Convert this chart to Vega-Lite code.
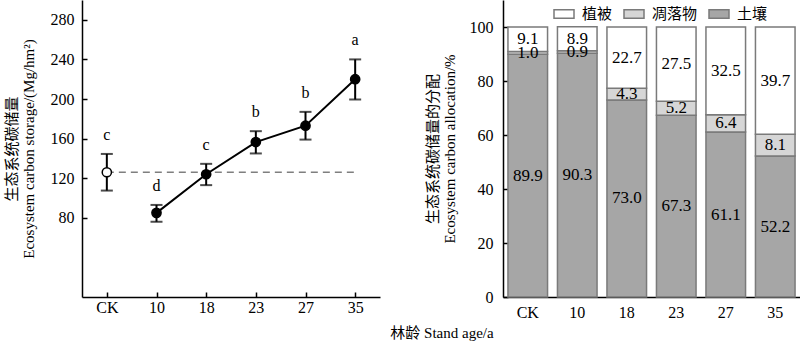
{
  "$schema": "https://vega.github.io/schema/vega-lite/v6.json",
  "padding": {"left": 4, "top": 0, "right": 0, "bottom": 0},
  "config": {
    "font": "Liberation Serif, Noto Sans CJK SC",
    "view": {"stroke": null},
    "axis": {"grid": false, "domainColor": "#000", "domainWidth": 1.5, "tickColor": "#000", "tickWidth": 1.5, "labelFont": "Liberation Serif", "labelFontSize": 16, "labelColor": "#000", "titleFont": "Liberation Serif, Noto Sans CJK SC", "titleFontSize": 15, "titleFontWeight": "normal", "titleColor": "#000"}
  },
  "title": {"text": "林龄 Stand age/a", "orient": "bottom", "anchor": "middle", "fontSize": 15, "fontWeight": "normal", "font": "Liberation Serif, Noto Sans CJK SC", "dx": 40, "offset": 6},
  "resolve": {"scale": {"fill": "independent"}, "legend": {"fill": "independent"}},
  "datasets": {
    "storage": [
      {"age": "CK", "value": 126, "lo": 107.5, "hi": 144.5, "letter": "c", "group": "CK"},
      {"age": "10", "value": 85, "lo": 76, "hi": 93, "letter": "d", "group": "stand"},
      {"age": "18", "value": 124, "lo": 113, "hi": 134.5, "letter": "c", "group": "stand"},
      {"age": "23", "value": 156.5, "lo": 145, "hi": 167.5, "letter": "b", "group": "stand"},
      {"age": "27", "value": 173, "lo": 159, "hi": 187, "letter": "b", "group": "stand"},
      {"age": "35", "value": 220, "lo": 199.5, "hi": 240, "letter": "a", "group": "stand"}
    ],
    "baseline": [{"from": "CK", "to": "35", "value": 126}],
    "allocation": [
      {"age": "CK", "part": "土壤", "value": 89.9},
      {"age": "CK", "part": "凋落物", "value": 1.0},
      {"age": "CK", "part": "植被", "value": 9.1},
      {"age": "10", "part": "土壤", "value": 90.3},
      {"age": "10", "part": "凋落物", "value": 0.9},
      {"age": "10", "part": "植被", "value": 8.9},
      {"age": "18", "part": "土壤", "value": 73.0},
      {"age": "18", "part": "凋落物", "value": 4.3},
      {"age": "18", "part": "植被", "value": 22.7},
      {"age": "23", "part": "土壤", "value": 67.3},
      {"age": "23", "part": "凋落物", "value": 5.2},
      {"age": "23", "part": "植被", "value": 27.5},
      {"age": "27", "part": "土壤", "value": 61.1},
      {"age": "27", "part": "凋落物", "value": 6.4},
      {"age": "27", "part": "植被", "value": 32.5},
      {"age": "35", "part": "土壤", "value": 52.2},
      {"age": "35", "part": "凋落物", "value": 8.1},
      {"age": "35", "part": "植被", "value": 39.7}
    ]
  },
  "spacing": 45,
  "hconcat": [
    {
      "width": 298,
      "height": 297,
      "encoding": {
        "x": {"field": "age", "type": "ordinal", "scale": {"type": "point", "padding": 0.5, "domain": ["CK", "10", "18", "23", "27", "35"]}, "axis": {"title": null, "labelAngle": 0, "tickSize": -5, "labelPadding": 7}}
      },
      "layer": [
        {
          "data": {"name": "baseline"},
          "mark": {"type": "rule", "color": "#7f7f7f", "strokeWidth": 1.5, "strokeDash": [7, 5]},
          "encoding": {
            "x": {"field": "from", "type": "ordinal"},
            "x2": {"field": "to"},
            "y": {"field": "value", "type": "quantitative"}
          }
        },
        {
          "data": {"name": "storage"},
          "mark": {"type": "rule", "color": "#000", "strokeWidth": 2},
          "encoding": {
            "y": {"field": "lo", "type": "quantitative"},
            "y2": {"field": "hi"}
          }
        },
        {
          "data": {"name": "storage"},
          "mark": {"type": "tick", "orient": "horizontal", "color": "#000", "size": 12, "thickness": 2},
          "encoding": {"y": {"field": "lo", "type": "quantitative"}}
        },
        {
          "data": {"name": "storage"},
          "mark": {"type": "tick", "orient": "horizontal", "color": "#000", "size": 12, "thickness": 2},
          "encoding": {"y": {"field": "hi", "type": "quantitative"}}
        },
        {
          "data": {"name": "storage"},
          "transform": [{"filter": "datum.group === 'stand'"}],
          "mark": {"type": "line", "color": "#000", "strokeWidth": 2},
          "encoding": {"y": {"field": "value", "type": "quantitative"}}
        },
        {
          "data": {"name": "storage"},
          "mark": {"type": "point", "shape": "circle", "size": 85, "stroke": "#000", "strokeWidth": 1.5, "opacity": 1},
          "encoding": {
            "y": {"field": "value", "type": "quantitative", "scale": {"domain": [60, 300], "nice": false}, "axis": {"title": ["生态系统碳储量", "Ecosystem carbon storage/(Mg/hm²)"], "values": [80, 120, 160, 200, 240, 280], "tickSize": -5, "labelPadding": 13, "titlePadding": 14}},
            "fill": {"field": "group", "type": "nominal", "scale": {"domain": ["CK", "stand"], "range": ["#ffffff", "#000000"]}, "legend": null}
          }
        },
        {
          "data": {"name": "storage"},
          "mark": {"type": "text", "fontSize": 16, "dy": -11, "baseline": "bottom", "color": "#000"},
          "encoding": {
            "y": {"field": "hi", "type": "quantitative"},
            "text": {"field": "letter"}
          }
        }
      ]
    },
    {
      "width": 297,
      "height": 297,
      "data": {"name": "allocation"},
      "transform": [
        {"calculate": "indexof(['土壤', '凋落物', '植被'], datum.part)", "as": "k"},
        {"stack": "value", "groupby": ["age"], "sort": [{"field": "k", "order": "ascending"}], "as": ["v0", "v1"]},
        {"calculate": "(datum.v0 + datum.v1) / 2", "as": "vm"}
      ],
      "encoding": {
        "x": {"field": "age", "type": "ordinal", "scale": {"type": "band", "paddingInner": 0.2, "paddingOuter": 0.1, "domain": ["CK", "10", "18", "23", "27", "35"]}, "axis": {"title": null, "labelAngle": 0, "ticks": false, "labelPadding": 7}}
      },
      "layer": [
        {
          "mark": {"type": "bar", "stroke": "#7a7a7a", "strokeWidth": 1.5},
          "encoding": {
            "y": {"field": "v0", "type": "quantitative", "scale": {"domain": [0, 110], "nice": false}, "axis": {"title": ["生态系统碳储量的分配", "Ecosystem carbon allocation/%"], "values": [0, 20, 40, 60, 80, 100], "tickSize": -5, "labelPadding": 15, "titlePadding": 12}},
            "y2": {"field": "v1"},
            "fill": {"field": "part", "type": "nominal", "scale": {"domain": ["植被", "凋落物", "土壤"], "range": ["#ffffff", "#d6d6d6", "#a6a6a6"]},
              "legend": {"title": null, "orient": "none", "legendX": 50, "legendY": 3, "direction": "horizontal", "symbolType": "M-1,-0.42H1V0.42H-1Z", "symbolSize": 400, "symbolStrokeColor": "#7a7a7a", "symbolStrokeWidth": 1.5, "labelFontSize": 15, "labelFont": "Noto Sans CJK SC", "labelColor": "#000", "columnPadding": 8, "labelOffset": 7}}
          }
        },
        {
          "mark": {"type": "text", "fontSize": 17, "baseline": "middle", "color": "#000"},
          "encoding": {
            "y": {"field": "vm", "type": "quantitative"},
            "text": {"field": "value", "type": "quantitative", "format": ".1f"}
          }
        }
      ]
    }
  ]
}
